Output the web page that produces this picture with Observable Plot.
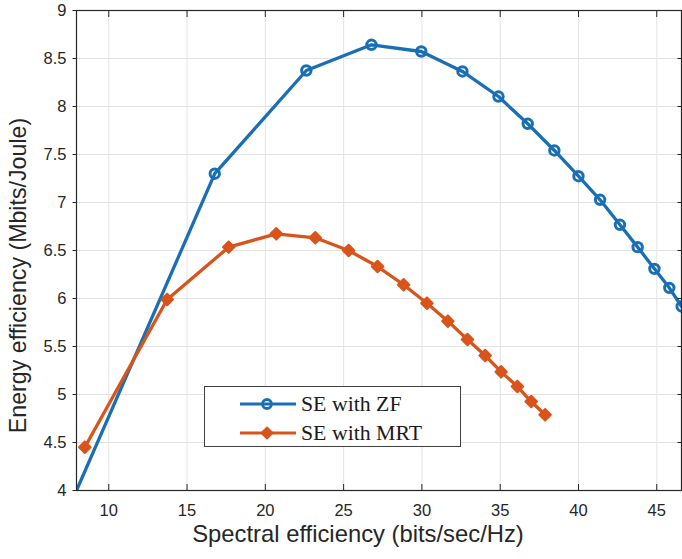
<!DOCTYPE html>
<html><head><meta charset="utf-8">
<script src="https://cdn.jsdelivr.net/npm/d3@7"></script>
<script src="https://cdn.jsdelivr.net/npm/@observablehq/plot@0.6"></script>
<style>
body{margin:0;background:#fff;}
#wrap{position:relative;width:682px;height:559px;overflow:hidden;}
.legend{position:absolute;left:204px;top:386px;width:257px;height:61px;background:#fff;border:1.3px solid #404040;box-sizing:border-box;font-family:"Liberation Serif","Times New Roman",serif;font-size:21.8px;color:#1a1a1a;}
.legend .row{position:absolute;left:34px;height:28px;display:flex;align-items:center;}
.legend .row span{margin-left:4px;white-space:nowrap;}
</style></head><body><div id="wrap"></div>
<script>
// ---- data ----
const seriesNames = ["SE with ZF", "SE with MRT"];
// ZF: first vertex is where the line enters the frame at the lower-left corner (no marker there)
const zfSE = [7.94, 16.77, 22.62, 26.78, 29.96, 32.59, 34.89, 36.76, 38.46, 40.0, 41.38, 42.65, 43.78, 44.85, 45.80, 46.59];
const zfEE = [4.0, 7.30, 8.375, 8.643, 8.573, 8.365, 8.104, 7.82, 7.542, 7.274, 7.028, 6.768, 6.535, 6.309, 6.111, 5.917];
const mrtSE = [8.47, 13.73, 17.66, 20.70, 23.19, 25.32, 27.17, 28.83, 30.32, 31.66, 32.91, 34.04, 35.06, 36.10, 36.98, 37.87];
const mrtEE = [4.451, 5.99, 6.535, 6.674, 6.632, 6.50, 6.333, 6.143, 5.951, 5.764, 5.573, 5.406, 5.236, 5.083, 4.927, 4.789];
const xTicks = [10, 15, 20, 25, 30, 35, 40, 45];
const yTicks = [4, 4.5, 5, 5.5, 6, 6.5, 7, 7.5, 8, 8.5, 9];
const xDomain = [7.94, 46.58];
const yDomain = [4, 9];
const xTitle = "Spectral efficiency (bits/sec/Hz)";
const yTitle = "Energy efficiency (Mbits/Joule)";

const blue = "#1a6fb4";
const orange = "#d9541a";
const axisColor = "#262626";

const zf = zfSE.map((x, i) => ({x, y: zfEE[i]}));
const mrt = mrtSE.map((x, i) => ({x, y: mrtEE[i]}));
const fmt = d => String(d);

const chart = Plot.plot({
  width: 682, height: 559,
  marginLeft: 76, marginRight: 1, marginTop: 10, marginBottom: 69,
  style: {fontFamily: "'Liberation Sans', Arial, sans-serif", fontSize: "16px", color: axisColor, background: "white", overflow: "visible"},
  x: {domain: xDomain, label: null},
  y: {domain: yDomain, label: null},
  marks: [
    Plot.gridX(xTicks, {stroke: "#e3e3e3", strokeOpacity: 1, strokeWidth: 1}),
    Plot.gridY(yTicks, {stroke: "#e3e3e3", strokeOpacity: 1, strokeWidth: 1}),
    Plot.line(zf, {x: "x", y: "y", stroke: blue, strokeWidth: 3.3, clip: true}),
    Plot.dot(zf.slice(1), {x: "x", y: "y", r: 4.7, stroke: blue, strokeWidth: 3, fill: "none", clip: true}),
    Plot.line(mrt, {x: "x", y: "y", stroke: orange, strokeWidth: 3.3, clip: true}),
    Plot.dot(mrt, {x: "x", y: "y", symbol: "diamond2", r: 5.2, fill: orange, stroke: orange, strokeWidth: 2, strokeLinejoin: "round", clip: true}),
    Plot.frame({stroke: axisColor, strokeWidth: 1.2}),
    // tick labels
    Plot.axisX(xTicks, {anchor: "bottom", tickSize: 0, tickPadding: 13.4, tickFormat: fmt, label: null, fontSize: 16.5}),
    Plot.axisY(yTicks, {anchor: "left", tickSize: 3.5, tickPadding: 6.5, tickFormat: fmt, label: null, fontSize: 16.5, stroke: axisColor}),
    // inward tick marks
    Plot.axisX(xTicks, {anchor: "bottom", tickSize: 6, dy: -6, text: null, label: null, stroke: axisColor}),
    Plot.axisX(xTicks, {anchor: "top", tickSize: 6, dy: 6, text: null, label: null, stroke: axisColor}),
    Plot.axisY(yTicks, {anchor: "right", tickSize: 4.5, dx: -4.5, text: null, label: null, stroke: axisColor}),
    // axis titles
    Plot.text([xTitle], {text: d => d, frameAnchor: "bottom", textAnchor: "middle", lineAnchor: "middle", dy: 43.5, dx: -21, fontSize: 23.8, fill: axisColor}),
    Plot.text([yTitle], {text: d => d, frameAnchor: "left", textAnchor: "middle", lineAnchor: "middle", dx: -58, dy: 25, rotate: -90, fontSize: 23.2, fill: axisColor})
  ]
});

const wrap = document.getElementById("wrap");
wrap.appendChild(chart);

// legend (overlay box like MATLAB's)
const legend = document.createElement("div");
legend.className = "legend";
const samples = [
  {color: blue, sym: "circle"},
  {color: orange, sym: "diamond"}
];
seriesNames.forEach((name, i) => {
  const row = document.createElement("div");
  row.className = "row";
  row.style.top = (i === 0 ? 3 : 32) + "px";
  const s = samples[i];
  const marker = s.sym === "circle"
    ? `<circle cx="28" cy="14" r="4.5" fill="none" stroke="${s.color}" stroke-width="2.8"/>`
    : `<path d="M28,8.5 L33.5,14 L28,19.5 L22.5,14 Z" fill="${s.color}" stroke="${s.color}" stroke-width="1.8" stroke-linejoin="round"/>`;
  row.innerHTML = `<svg width="58" height="28"><line x1="1" y1="14" x2="57" y2="14" stroke="${s.color}" stroke-width="3.2"/>${marker}</svg><span>${name}</span>`;
  legend.appendChild(row);
});
wrap.appendChild(legend);
</script>
</body></html>
